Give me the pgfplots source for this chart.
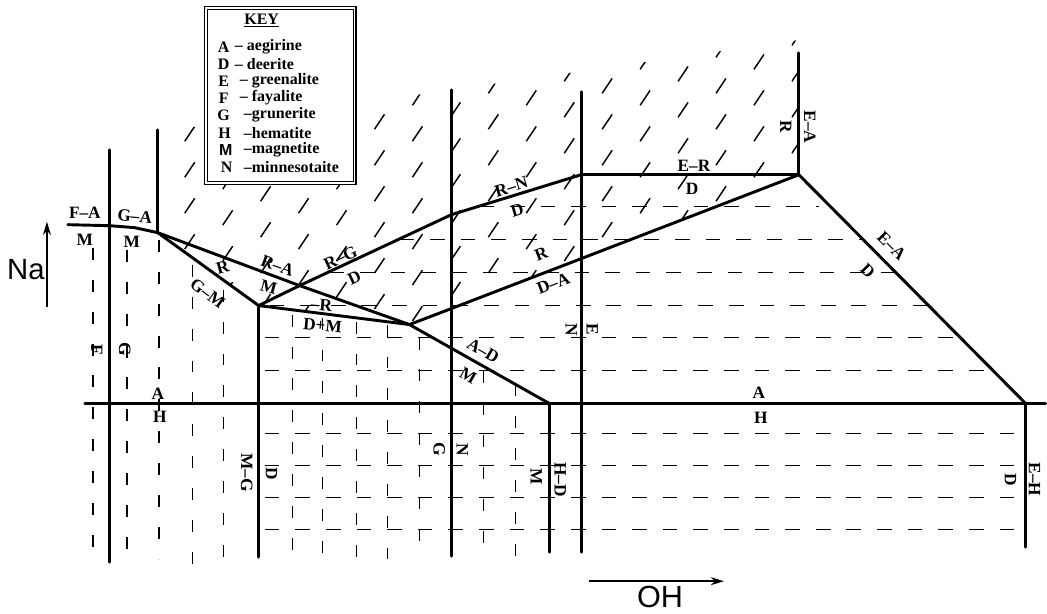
\documentclass[border=0pt]{standalone}
\usepackage{pgfplots}
\pgfplotsset{compat=1.18}
\usepackage{fontspec}
\setmainfont{Liberation Serif}
\newfontfamily\sansf{Liberation Sans}
\usetikzlibrary{patterns,arrows.meta}

\pgfdeclarepatternformonly{slashes}{\pgfqpoint{-4pt}{-6pt}}{\pgfqpoint{62pt}{25pt}}{\pgfqpoint{85.5pt}{27pt}}{%
 \pgfsetlinewidth{1.1pt}%
 \pgfpathmoveto{\pgfqpoint{-3.75pt}{-5.6pt}}\pgfpathlineto{\pgfqpoint{3.75pt}{5.6pt}}%
 \pgfpathmoveto{\pgfqpoint{24.75pt}{12.4pt}}\pgfpathlineto{\pgfqpoint{32.25pt}{23.6pt}}%
 \pgfpathmoveto{\pgfqpoint{53.25pt}{3.4pt}}\pgfpathlineto{\pgfqpoint{60.75pt}{14.6pt}}%
 \pgfusepath{stroke}%
}

\tikzset{
 thickl/.style={line width=2.2pt,line join=round,line cap=round},
 dashv/.style={line width=1.1pt,dash pattern=on 9pt off 15pt},
 dashh/.style={line width=1.1pt,dash pattern=on 11pt off 12pt},
 lab/.style={font=\bfseries\fontsize{13}{13}\selectfont,inner sep=0pt},
 keyt/.style={font=\bfseries\fontsize{12}{12}\selectfont,inner sep=0pt},
}

\begin{document}
\begin{tikzpicture}
\begin{axis}[width=785.25pt,height=460.5pt,scale only axis,
  xmin=0,xmax=1047,ymin=0,ymax=614,y dir=reverse,
  hide axis,clip=false,no markers]
\path (axis cs:0,0) rectangle (axis cs:1047,614);

% ---- slash hatch region (R field)
\addplot[draw=none,pattern=slashes] coordinates {(160,132) (800,40) (800,175) (410,325) (259,306) (158,233)} --cycle;

% ---- horizontal dashed rows (D field)
\addplot[dashh] coordinates {(480,207) (820,207)};
\addplot[dashh] coordinates {(400,240) (865,240)};
\addplot[dashh] coordinates {(330,273) (897,273)};
\addplot[dashh] coordinates {(270,306) (930,306)};
\addplot[dashh] coordinates {(265,338) (962,338)};
\addplot[dashh] coordinates {(265,371) (995,371)};
\addplot[dashh] coordinates {(265,434) (1020,434)};
\addplot[dashh] coordinates {(265,466) (1020,466)};
\addplot[dashh] coordinates {(265,498) (1020,498)};
\addplot[dashh] coordinates {(265,530) (1020,530)};

% ---- vertical dashed columns (M field)
\addplot[dashv] coordinates {(93,248) (93,562)};
\addplot[dashv] coordinates {(127,250) (127,560)};
\addplot[dashv] coordinates {(159,240) (159,560)};
\addplot[dashv] coordinates {(193,265) (193,565)};
\addplot[dashv] coordinates {(224,290) (224,570)};
\addplot[dashv] coordinates {(293,315) (293,558)};
\addplot[dashv] coordinates {(323,318) (323,560)};
\addplot[dashv] coordinates {(357,322) (357,560)};
\addplot[dashv] coordinates {(388,325) (388,560)};
\addplot[dashv] coordinates {(420,338) (420,560)};
\addplot[dashv] coordinates {(484,372) (484,560)};
\addplot[dashv] coordinates {(516,385) (516,560)};

% ---- solid phase boundaries
\addplot[thickl] coordinates {(85,404) (1047,404)};
\addplot[thickl] coordinates {(110,150) (110,563)};
\addplot[thickl] coordinates {(158,130) (158,233)};
\addplot[thickl] coordinates {(259,306) (259,558)};
\addplot[thickl] coordinates {(452,90) (452,557)};
\addplot[thickl] coordinates {(550,404) (550,553)};
\addplot[thickl] coordinates {(582,92) (582,553)};
\addplot[thickl] coordinates {(800,53) (800,175)};
\addplot[thickl] coordinates {(1027,404) (1027,548)};
\addplot[thickl] coordinates {(68,225) (110,226) (135,228) (158,233)};
\addplot[thickl] coordinates {(158,233) (300,286) (410,325) (550,404)};
\addplot[thickl] coordinates {(158,233) (259,306)};
\addplot[thickl] coordinates {(259,306) (410,325)};
\addplot[thickl] coordinates {(259,306) (300,286) (452,215) (582,175)};
\addplot[thickl] coordinates {(582,175) (800,175)};
\addplot[thickl] coordinates {(410,325) (452,309) (582,259) (800,175)};
\addplot[thickl] coordinates {(800,175) (1027,404)};

% ---- key
\draw[double,double distance=1.4pt,line width=0.8pt,fill=white] (axis cs:206,8) rectangle (axis cs:355,183);
\node[keyt] at (axis cs:262,21) {\underline{KEY}};
\node[keyt] at (axis cs:224,47) {A};  \node[keyt,anchor=west] at (axis cs:235,47) {– aegirine};
\node[keyt] at (axis cs:224,64) {D};  \node[keyt,anchor=west] at (axis cs:235,64) {– deerite};
\node[keyt] at (axis cs:224,81) {E};  \node[keyt,anchor=west] at (axis cs:240,81) {– greenalite};
\node[keyt] at (axis cs:224,98) {F};  \node[keyt,anchor=west] at (axis cs:240,98) {– fayalite};
\node[keyt] at (axis cs:224,115) {G}; \node[keyt,anchor=west] at (axis cs:244,115) {–grunerite};
\node[keyt] at (axis cs:225,133) {H}; \node[keyt,anchor=west] at (axis cs:244,133) {–hematite};
\node[keyt] at (axis cs:226,150) {\sansf\bfseries M}; \node[keyt,anchor=west] at (axis cs:244,150) {–magnetite};
\node[keyt] at (axis cs:227,167) {N}; \node[keyt,anchor=west] at (axis cs:244,167) {–minnesotaite};

% ---- field labels
\node[lab] at (axis cs:85,213) {F–A};
\node[lab] at (axis cs:85,240) {M};
\node[lab,rotate=-5] at (axis cs:135,217) {G–A};
\node[lab] at (axis cs:132,242) {M};
\node[lab,rotate=-90] at (axis cs:97,350) {F};
\node[lab,rotate=-90] at (axis cs:125,350) {G};
\node[lab] at (axis cs:158,394) {A};
\node[lab] at (axis cs:160,417) {H};
\node[lab,rotate=15] at (axis cs:223,268) {R};
\node[lab,rotate=-37] at (axis cs:208,294) {G–M};
\node[lab,rotate=-20] at (axis cs:278,266) {R–A};
\node[lab,rotate=-15] at (axis cs:269,288) {M};
\node[lab,rotate=25] at (axis cs:341,258) {R–G};
\node[lab,rotate=25] at (axis cs:355,278) {D};
\node[lab,rotate=-5] at (axis cs:322,305) {–R};
\node[lab,rotate=-5] at (axis cs:323,326) {D+M};
\node[lab,rotate=17] at (axis cs:512,187) {R–N};
\node[lab,rotate=17] at (axis cs:518,211) {D};
\node[lab,rotate=21] at (axis cs:542,254) {R};
\node[lab,rotate=21] at (axis cs:554,284) {D–A};
\node[lab,rotate=-30] at (axis cs:484,351) {A–D};
\node[lab,rotate=-30] at (axis cs:469,376) {M};
\node[lab,rotate=-90] at (axis cs:572,330) {N};
\node[lab,rotate=-90] at (axis cs:593,330) {E};
\node[lab] at (axis cs:695,166) {E–R};
\node[lab] at (axis cs:693,189) {D};
\node[lab,rotate=-90] at (axis cs:811,127) {E–A};
\node[lab,rotate=-90] at (axis cs:787,127) {R};
\node[lab,rotate=-45] at (axis cs:893,246) {E–A};
\node[lab,rotate=-45] at (axis cs:869,271) {D};
\node[lab] at (axis cs:760,393) {A};
\node[lab] at (axis cs:762,418) {H};
\node[lab,rotate=-90] at (axis cs:247,473) {M–G};
\node[lab,rotate=-90] at (axis cs:272,474) {D};
\node[lab,rotate=-90] at (axis cs:440,450) {G};
\node[lab,rotate=-90] at (axis cs:463,450) {N};
\node[lab,rotate=-90] at (axis cs:537,477) {M};
\node[lab,rotate=-90] at (axis cs:561,480) {H–D};
\node[lab,rotate=-90] at (axis cs:1012,480) {D};
\node[lab,rotate=-90] at (axis cs:1036,480) {E–H};

% ---- composition arrows
\draw[-{Stealth[length=10pt,width=6pt]},line width=1.3pt] (axis cs:47,307) -- (axis cs:47,222);
\node[font=\sansf\fontsize{22}{22}\selectfont,inner sep=0pt] at (axis cs:26,270) {Na};
\draw[-{Stealth[length=10pt,width=6pt]},line width=1.3pt] (axis cs:590,582) -- (axis cs:725,582);
\node[font=\sansf\fontsize{23}{23}\selectfont,inner sep=0pt] at (axis cs:661,598) {OH};
\end{axis}
\end{tikzpicture}
\end{document}
